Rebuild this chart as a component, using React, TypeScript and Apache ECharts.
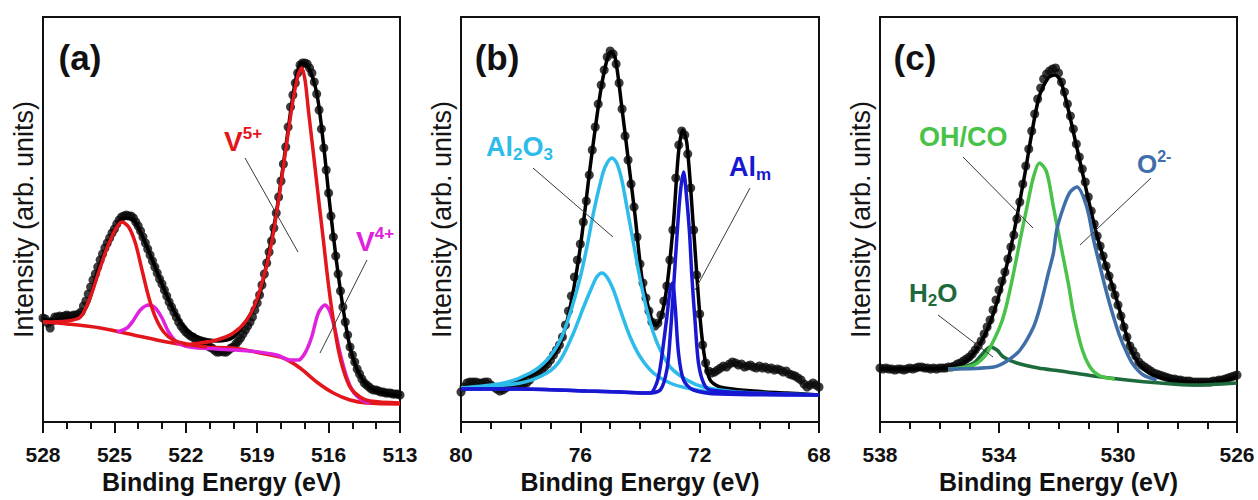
import React, { useEffect, useRef } from 'react';
import * as echarts from 'echarts';

const FONT = '"Liberation Sans", Arial, Helvetica, sans-serif';

// ---------- measurement grids (start energy, 0.1 eV step) ----------
const aStart = 528;
const bStart = 80;
const cStart = 538;
const eStep = 0.1;

// ---------- panel (a) V 2p ----------
const aDots = [
  104, 103, 99, 94, 101, 105, 105, 106, 105, 106,
  107, 106, 106, 107, 107, 108, 110, 116, 121, 128,
  135, 142, 148, 155, 162, 168, 174, 179, 184, 189,
  193, 198, 202, 205, 206, 207, 206, 206, 204, 200,
  196, 191, 185, 179, 173, 167, 161, 155, 149, 143,
  138, 132, 126, 120, 115, 110, 105, 100, 96, 93,
  90, 88, 86, 85, 83, 82, 80, 79, 78, 77,
  75, 74, 72, 70, 70, 71, 70, 70, 72, 74,
  75, 78, 81, 84, 88, 92, 96, 100, 105, 112,
  119, 127, 137, 148, 159, 170, 181, 194, 209, 225,
  241, 258, 275, 295, 315, 327, 339, 349, 357, 359,
  359, 358, 354, 349, 340, 328, 312, 293, 274, 252,
  229, 206, 185, 166, 148, 131, 115, 100, 87, 75,
  67, 60, 53, 48, 43, 39, 37, 35, 33, 32,
  32, 31, 30, 30, 29, 29, 29, 28, 28, 28,
  27,
];
const aEnvelope = [[528, 102], [526.43, 107], [525.59, 159], [525.03, 190], [524.61, 204], [524.19, 202], [523.63, 175], [523.07, 142], [522.52, 112], [521.96, 92], [521.4, 84], [520.7, 81], [520.0, 85], [519.3, 107], [518.88, 129], [518.6, 159], [518.18, 212], [517.76, 282], [517.41, 339], [517.13, 359], [516.85, 355], [516.5, 329], [516.22, 279], [515.94, 215], [515.66, 159], [515.38, 112], [515.1, 75], [514.75, 50], [514.26, 34], [513.7, 29], [513.0, 26]];
const aBackground = [[528, 100], [526.99, 98], [525.59, 94], [524.19, 87], [522.8, 80], [521.4, 75], [520.0, 74], [518.88, 69], [517.9, 64], [517.2, 54], [516.5, 40], [515.8, 29], [515.1, 22], [514.4, 19], [513.0, 18]];
const aV5Left = [[528, 100], [526.99, 101], [526.43, 105], [526.01, 125], [525.59, 155], [525.17, 182], [524.68, 200], [524.4, 195], [524.12, 179], [523.84, 152], [523.56, 125], [523.28, 105], [522.93, 90], [522.52, 82], [521.96, 78], [521.12, 75]];
const aV5Right = [[522.1, 77], [521.4, 79], [520.7, 82], [520.0, 89], [519.44, 102], [519.02, 122], [518.6, 157], [518.32, 189], [518.04, 232], [517.76, 279], [517.48, 324], [517.27, 348], [517.13, 354], [516.99, 342], [516.85, 312], [516.64, 269], [516.43, 225], [516.22, 182], [516.08, 152], [515.94, 125], [515.8, 102], [515.59, 72], [515.38, 52], [515.1, 35], [514.68, 25], [514.26, 21], [513.0, 19]];
const aV4 = [[524.89, 90], [524.47, 94], [524.19, 102], [523.91, 112], [523.56, 117], [523.28, 114], [523.0, 104], [522.72, 90], [522.38, 80], [521.82, 75], [520.7, 73], [519.3, 71], [518.18, 67], [517.62, 62], [517.27, 62], [516.99, 69], [516.71, 85], [516.43, 109], [516.15, 117], [515.94, 110], [515.73, 92], [515.52, 69], [515.24, 45], [514.96, 30], [514.61, 22], [514.26, 19]];

// ---------- panel (b) Al 2p ----------
const bDots = [
  30, 35, 39, 40, 40, 40, 39, 39, 40, 40,
  37, 35, 33, 31, 32, 34, 36, 38, 38, 38,
  37, 38, 39, 42, 46, 48, 50, 52, 55, 58,
  62, 67, 72, 77, 85, 97, 111, 126, 145, 162,
  178, 200, 221, 247, 272, 295, 318, 337, 352, 365,
  371, 368, 358, 339, 313, 286, 262, 238, 215, 185,
  158, 139, 124, 111, 100, 96, 99, 107, 121, 136,
  162, 192, 244, 277, 291, 287, 268, 234, 192, 147,
  108, 77, 59, 51, 49, 50, 52, 54, 56, 55,
  58, 60, 59, 57, 58, 55, 56, 57, 55, 54,
  56, 54, 55, 53, 54, 52, 53, 52, 50, 51,
  48, 47, 46, 44, 42, 38, 35, 37, 39, 37,
  35,
];
const bEnvelope = [[80, 34], [78.57, 37], [77.68, 47], [77.12, 59], [76.67, 79], [76.34, 115], [76.0, 175], [75.67, 255], [75.33, 329], [75.11, 362], [74.98, 370], [74.83, 364], [74.61, 315], [74.38, 259], [74.16, 205], [73.94, 145], [73.72, 115], [73.49, 97], [73.32, 102], [73.1, 135], [72.88, 199], [72.71, 269], [72.57, 292], [72.43, 279], [72.21, 195], [71.98, 102], [71.82, 62], [71.65, 42], [71.32, 35], [70.2, 31], [69.08, 29], [68, 27]];
const bAl2O3Main = [[80, 34], [78.57, 39], [77.68, 49], [77.12, 62], [76.67, 82], [76.34, 109], [76.0, 145], [75.78, 175], [75.56, 209], [75.33, 239], [75.17, 255], [74.94, 264], [74.78, 259], [74.61, 242], [74.44, 215], [74.22, 179], [73.99, 142], [73.77, 112], [73.55, 89], [73.32, 72], [72.99, 55], [72.43, 42], [71.87, 35], [70.76, 30], [68, 27]];
const bAl2O3Minor = [[80, 34], [78.01, 39], [77.12, 49], [76.67, 62], [76.23, 89], [75.89, 115], [75.61, 135], [75.45, 145], [75.28, 149], [75.11, 145], [74.89, 132], [74.66, 112], [74.33, 85], [73.99, 65], [73.55, 49], [72.99, 39], [72.43, 34], [71.32, 29], [68, 27]];
const bAlmMain = [[80, 33], [78.01, 33], [75.78, 31], [74.66, 30], [73.77, 29], [73.32, 32], [73.1, 52], [72.99, 85], [72.88, 132], [72.77, 182], [72.65, 229], [72.54, 250], [72.43, 222], [72.34, 189], [72.26, 145], [72.15, 99], [72.04, 59], [71.87, 39], [71.65, 32], [70.2, 29], [68, 27]];
const bAlmMinor = [[80, 33], [78.01, 33], [75.78, 31], [74.66, 30], [73.66, 29], [73.44, 39], [73.32, 55], [73.21, 79], [73.1, 105], [72.99, 132], [72.91, 139], [72.82, 115], [72.71, 69], [72.54, 42], [72.21, 32], [71.32, 28], [68, 27]];

// ---------- panel (c) O 1s ----------
const cDots = [
  54, 53, 54, 53, 53, 52, 53, 53, 52, 53,
  54, 53, 54, 55, 55, 54, 54, 53, 54, 53,
  54, 54, 54, 55, 55, 56, 58, 59, 61, 63,
  65, 68, 72, 76, 81, 88, 95, 102, 112, 122,
  132, 141, 150, 163, 175, 187, 203, 220, 238, 256,
  273, 291, 308, 323, 334, 343, 348, 351, 353, 354,
  349, 340, 330, 318, 306, 293, 278, 265, 253, 240,
  225, 211, 198, 186, 176, 166, 156, 146, 135, 127,
  117, 106, 95, 85, 76, 71, 66, 60, 57, 55,
  53, 51, 49, 48, 47, 46, 45, 44, 43, 43,
  42, 42, 41, 41, 41, 40, 40, 40, 40, 40,
  40, 40, 41, 41, 42, 42, 43, 44, 45, 46,
  47,
];
const cEnvelope = [[538, 53], [535.71, 54], [534.97, 64], [534.29, 100], [533.68, 164], [533.18, 240], [532.68, 322], [532.35, 344], [532.12, 347], [531.9, 339], [531.38, 274], [530.71, 187], [530.04, 122], [529.59, 75], [529.26, 57], [528.81, 47], [528.03, 41], [526.91, 39], [526, 45]];
const cOHCO = [[535.71, 53], [534.92, 56], [534.47, 66], [534.14, 84], [533.91, 100], [533.73, 119], [533.51, 149], [533.29, 182], [533.06, 215], [532.85, 244], [532.64, 259], [532.4, 250], [532.17, 215], [531.89, 172], [531.66, 137], [531.5, 109], [531.23, 75], [530.94, 55], [530.6, 46], [530.11, 43]];
const cO2 = [[535.71, 53], [534.18, 55], [533.73, 61], [533.29, 72], [532.84, 95], [532.62, 115], [532.34, 149], [532.17, 169], [532.06, 192], [531.83, 215], [531.61, 230], [531.38, 235], [531.05, 215], [530.82, 182], [530.6, 155], [530.38, 129], [530.15, 105], [529.93, 85], [529.7, 69], [529.48, 57], [529.15, 47], [528.7, 42]];
const cH2O = [[535.71, 53], [535.3, 54], [534.85, 59], [534.59, 67], [534.29, 75], [534.07, 72], [533.85, 65], [533.4, 59], [532.68, 54], [531.94, 51], [530.82, 46], [529.7, 42], [528.59, 39], [527.47, 37], [526.01, 39]];

// ---------- axes ----------
const aTicks = { min: 513, max: 528, interval: 3, minor: 3 };
const bTicks = { min: 68, max: 80, interval: 4, minor: 4 };
const cTicks = { min: 526, max: 538, interval: 4, minor: 4 };

const RED = '#E3161C';
const MAGENTA = '#DE22DE';
const CYAN = '#2DBCEA';
const BLUE = '#1818D2';
const LGREEN = '#48C248';
const STEEL = '#3F6EA8';
const DGREEN = '#1D6A3D';
const INK = '#111111';

const toPoints = (start: number, vals: number[]) =>
  vals.map((v, i) => [Math.round((start - i * eStep) * 10) / 10, v]);

function dots(g: number, data: number[][]) {
  return {
    type: 'scatter', xAxisIndex: g, yAxisIndex: g, data,
    symbol: 'circle', symbolSize: 9, itemStyle: { color: '#0b0b0b' }, z: 2, silent: true,
  };
}
function curve(g: number, data: number[][], color: string, z = 4, width = 3.5) {
  return {
    type: 'line', xAxisIndex: g, yAxisIndex: g, data, symbol: 'none', showSymbol: false,
    smooth: 0.3, lineStyle: { color, width }, z, silent: true,
  };
}
function xAxis(g: number, t: { min: number; max: number; interval: number; minor: number }) {
  return {
    gridIndex: g, type: 'value', inverse: true, min: t.min, max: t.max, interval: t.interval,
    axisLine: { show: true, onZero: false, lineStyle: { color: INK, width: 2 } },
    axisTick: { show: true, length: 11, lineStyle: { color: INK, width: 2 } },
    minorTick: { show: true, splitNumber: t.minor, length: 7, lineStyle: { color: INK, width: 2 } },
    axisLabel: { fontSize: 21, fontWeight: 'bold', color: INK, fontFamily: FONT, margin: 22, showMinLabel: true, showMaxLabel: true },
    splitLine: { show: false }, minorSplitLine: { show: false },
    name: 'Binding Energy (eV)', nameLocation: 'middle', nameGap: 42,
    nameTextStyle: { fontSize: 25, fontWeight: 'bold', color: INK, fontFamily: FONT },
  };
}
function yAxis(g: number) {
  return {
    gridIndex: g, type: 'value', min: 0, max: 405,
    axisLine: { show: false }, axisTick: { show: false }, axisLabel: { show: false }, splitLine: { show: false },
    name: 'Intensity (arb. units)', nameLocation: 'middle', nameGap: 6, nameRotate: 90,
    nameTextStyle: { fontSize: 27, color: '#151515', fontFamily: FONT },
  };
}

function label(x: number, y: number, text: string, rich: any) {
  return { type: 'text', x, y, z: 100, style: { text, rich, align: 'left', verticalAlign: 'middle' } };
}
function leader(x1: number, y1: number, x2: number, y2: number) {
  return { type: 'line', z: 100, shape: { x1, y1, x2, y2 }, style: { stroke: '#3a3a3a', lineWidth: 1 } };
}
function panelTag(x: number, text: string) {
  return {
    type: 'text', x, y: 57, z: 100,
    style: { text, fontSize: 35, fontWeight: 'bold', fontFamily: FONT, fill: INK, align: 'center', verticalAlign: 'middle' },
  };
}
const mainTok = (color: string, size = 28) => ({ fontSize: size, fontWeight: 'bold', fontFamily: FONT, fill: color, lineHeight: 32 });
const supTok = (color: string, size = 17) => ({ fontSize: size, fontWeight: 'bold', fontFamily: FONT, fill: color, lineHeight: 18, verticalAlign: 'top' });
const subTok = (color: string, size = 17) => ({ fontSize: size, fontWeight: 'bold', fontFamily: FONT, fill: color, lineHeight: 18, verticalAlign: 'bottom' });

export default function App() {
  const ref = useRef<HTMLDivElement>(null);
  useEffect(() => {
    document.body.style.margin = '0';
    const chart = echarts.init(ref.current!, undefined, { renderer: 'svg' });
    const gridBase = { top: 17, height: 405, show: true, borderColor: INK, borderWidth: 2, backgroundColor: 'transparent', containLabel: false };
    chart.setOption({
      animation: false,
      backgroundColor: '#ffffff',
      textStyle: { fontFamily: FONT },
      grid: [
        { ...gridBase, left: 43, width: 357 },
        { ...gridBase, left: 461, width: 358 },
        { ...gridBase, left: 880, width: 357 },
      ],
      xAxis: [xAxis(0, aTicks), xAxis(1, bTicks), xAxis(2, cTicks)],
      yAxis: [yAxis(0), yAxis(1), yAxis(2)],
      series: [
        dots(0, toPoints(aStart, aDots)),
        curve(0, aEnvelope, '#000000', 3),
        curve(0, aBackground, RED),
        curve(0, aV4, MAGENTA),
        curve(0, aV5Left, RED),
        curve(0, aV5Right, RED),
        dots(1, toPoints(bStart, bDots)),
        curve(1, bEnvelope, '#000000', 3),
        curve(1, bAl2O3Main, CYAN),
        curve(1, bAl2O3Minor, CYAN),
        curve(1, bAlmMain, BLUE),
        curve(1, bAlmMinor, BLUE),
        dots(2, toPoints(cStart, cDots)),
        curve(2, cEnvelope, '#000000', 3),
        curve(2, cH2O, DGREEN),
        curve(2, cOHCO, LGREEN),
        curve(2, cO2, STEEL),
      ],
      graphic: [
        panelTag(80, '(a)'),
        panelTag(497, '(b)'),
        panelTag(915, '(c)'),
        label(224, 141, '{m|V}{s|5+}', { m: mainTok(RED), s: supTok(RED) }),
        label(356, 241, '{m|V}{s|4+}', { m: mainTok(MAGENTA), s: supTok(MAGENTA) }),
        label(486, 147, '{m|Al}{b|2}{m|O}{b|3}', { m: mainTok(CYAN, 27), b: subTok(CYAN) }),
        label(729, 167, '{m|Al}{b|m}', { m: mainTok(BLUE, 27), b: subTok(BLUE) }),
        label(919, 137, '{m|OH/CO}', { m: mainTok(LGREEN, 27) }),
        label(1137, 164, '{m|O}{s|2-}', { m: mainTok(STEEL, 26), s: supTok(STEEL, 16) }),
        label(909, 293, '{m|H}{b|2}{m|O}', { m: mainTok(DGREEN, 26), b: subTok(DGREEN) }),
        leader(245, 158, 298, 252),
        leader(367, 260, 320, 353),
        leader(533, 168, 613, 237),
        leader(750, 188, 695, 290),
        leader(963, 157, 1033, 228),
        leader(1151, 178, 1080, 245),
        leader(938, 315, 993, 357),
      ],
    });
    return () => chart.dispose();
  }, []);
  return <div ref={ref} style={{ position: 'fixed', left: 0, top: 0, width: 1258, height: 500, background: '#fff' }} />;
}
